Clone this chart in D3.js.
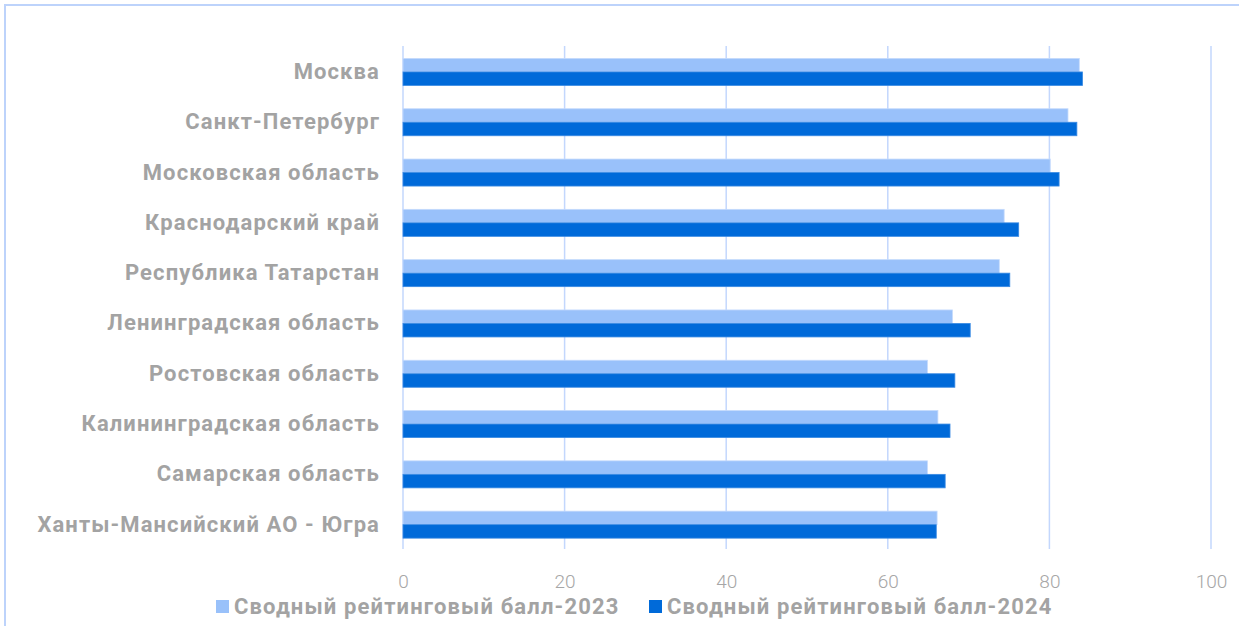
<!DOCTYPE html>
<html>
<head>
<meta charset="utf-8">
<script src="https://cdn.jsdelivr.net/npm/d3@7"></script>
<style>
  html, body { margin: 0; padding: 0; background: #fff; }
  svg { display: block; }
</style>
</head>
<body>
<svg id="chart" width="1239" height="626"></svg>
<script>
const categories = [
  "Москва",
  "Санкт-Петербург",
  "Московская область",
  "Краснодарский край",
  "Республика Татарстан",
  "Ленинградская область",
  "Ростовская область",
  "Калининградская область",
  "Самарская область",
  "Ханты-Мансийский АО - Югра"
];
const seriesNames = ["Сводный рейтинговый балл-2023", "Сводный рейтинговый балл-2024"];
const values2023 = [83.7, 82.3, 80.1, 74.4, 73.8, 68.0, 64.9, 66.2, 64.9, 66.1];
const values2024 = [84.1, 83.4, 81.2, 76.2, 75.1, 70.2, 68.3, 67.7, 67.1, 66.0];
const xTicks = [0, 20, 40, 60, 80, 100];

const colors = ["#99c1fa", "#006ad9"];
const strokes = ["#c4dafc", "#3a8ae3"];

const svg = d3.select("#chart");

// outer frame
svg.append("rect")
  .attr("x", 5).attr("y", 5)
  .attr("width", 1400).attr("height", 800)
  .attr("fill", "none")
  .attr("stroke", "#bdd3fb")
  .attr("stroke-width", 2);

const x = d3.scaleLinear().domain([0, 100]).range([403, 1211]);
const y0 = d3.scaleBand().domain(categories).range([46.8, 549.8])
  .paddingInner(0.463).paddingOuter(0.2315);
const y1 = d3.scaleBand().domain(seriesNames).range([0, y0.bandwidth()]);

// gridlines
svg.append("g").selectAll("line")
  .data(xTicks)
  .join("line")
  .attr("x1", d => x(d)).attr("x2", d => x(d))
  .attr("y1", 46).attr("y2", 549)
  .attr("stroke", "#c3d7fd")
  .attr("stroke-width", 1.5);

// x axis tick labels
const xAxis = d3.axisBottom(x).tickValues(xTicks).tickSize(0).tickPadding(0);
const gx = svg.append("g").attr("transform", "translate(0,574)").call(xAxis);
gx.select(".domain").remove();
gx.selectAll("text")
  .attr("dy", "0.71em")
  .attr("font-family", "Roboto, sans-serif")
  .attr("font-weight", 300)
  .attr("font-size", 19)
  .attr("fill", "#a6a6a6");

// bars
const data = categories.map((c, i) => ({ cat: c, vals: [values2023[i], values2024[i]] }));
const groups = svg.append("g").selectAll("g")
  .data(data)
  .join("g")
  .attr("transform", d => `translate(0,${y0(d.cat)})`);
groups.selectAll("rect")
  .data(d => d.vals.map((v, j) => ({ v, s: seriesNames[j], j })))
  .join("rect")
  .attr("x", x(0))
  .attr("y", d => y1(d.s))
  .attr("width", d => x(d.v) - x(0))
  .attr("height", y1.bandwidth())
  .attr("fill", d => colors[d.j])
  .attr("stroke", d => strokes[d.j])
  .attr("stroke-width", 0.8);

// category labels
const yAxis = d3.axisLeft(y0).tickSize(0).tickPadding(0);
const gy = svg.append("g").attr("transform", "translate(380,0)").call(yAxis);
gy.select(".domain").remove();
gy.selectAll("text")
  .attr("font-family", "Roboto, sans-serif")
  .attr("font-weight", 700)
  .attr("font-size", 22)
  .attr("letter-spacing", 1.1)
  .attr("fill", "#a3a3a3");

// legend
const legendX = [216, 649];
const legend = svg.append("g").selectAll("g")
  .data(seriesNames)
  .join("g")
  .attr("transform", (d, i) => `translate(${legendX[i]},600)`);
legend.append("rect")
  .attr("width", 13).attr("height", 13)
  .attr("fill", (d, i) => colors[i]);
legend.append("text")
  .attr("x", 18).attr("y", 13.5)
  .attr("font-family", "Roboto, sans-serif")
  .attr("font-weight", 700)
  .attr("font-size", 22)
  .attr("letter-spacing", 1.15)
  .attr("fill", "#a3a3a3")
  .text(d => d);
</script>
</body>
</html>
